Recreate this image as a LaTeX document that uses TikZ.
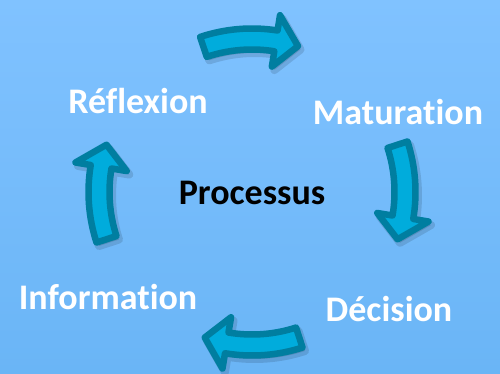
\documentclass[tikz,border=0pt]{standalone}
\usepackage{fontspec}
\setmainfont{Carlito}[Ligatures={NoCommon}]
\definecolor{bgtop}{RGB}{128,194,255}
\definecolor{bgbot}{RGB}{106,181,246}
\definecolor{arrowfill}{RGB}{0,172,220}
\definecolor{arrowline}{RGB}{0,126,160}
\tikzset{
  cyclabel/.style={text=white,font=\bfseries\fontsize{36}{40}\selectfont,inner sep=0pt,anchor=base},
  centrelabel/.style={text=black,font=\bfseries\fontsize{36}{40}\selectfont,inner sep=0pt,anchor=base},
  arrowbody/.style={fill=arrowfill,draw=arrowline,line width=6.5pt,line join=round},
  arrowshadow/.style={fill=black,draw=black,line width=8pt,line join=round,opacity=0.12},
}
\newcommand\cycarrow[2][]{%
  \draw[#1] (#2+18:163.5pt) arc[start angle=#2+18,end angle=#2-9.5,radius=163.5pt]
    -- (#2-9.5:179pt) -- (#2-18:153pt) -- (#2-9.5:127pt) -- (#2-9.5:142.5pt)
    arc[start angle=#2-9.5,end angle=#2+18,radius=142.5pt] -- cycle;}
\begin{document}
\begin{tikzpicture}[x=1pt,y=1pt]
\useasboundingbox (0,0) rectangle (500,373);
\shade[top color=bgtop,bottom color=bgbot] (0,0) rectangle (500,373);
\begin{scope}[shift={(252,181)}]
  \foreach \a in {90.5,0,-90,180}{
    \cycarrow[arrowshadow,shift={(2.5pt,-3.5pt)}]{\a}
  }
  \foreach \a in {90.5,0,-90,180}{
    \cycarrow[arrowbody]{\a}
  }
\end{scope}
\node[cyclabel] (reflexion) at (138,260) {Réflexion};
\node[cyclabel] (maturation) at (398,249) {Maturation};
\node[centrelabel] (processus) at (252,169) {Processus};
\node[cyclabel] (information) at (108,64) {Information};
\node[cyclabel] (decision) at (389,52) {Décision};
\end{tikzpicture}
\end{document}
